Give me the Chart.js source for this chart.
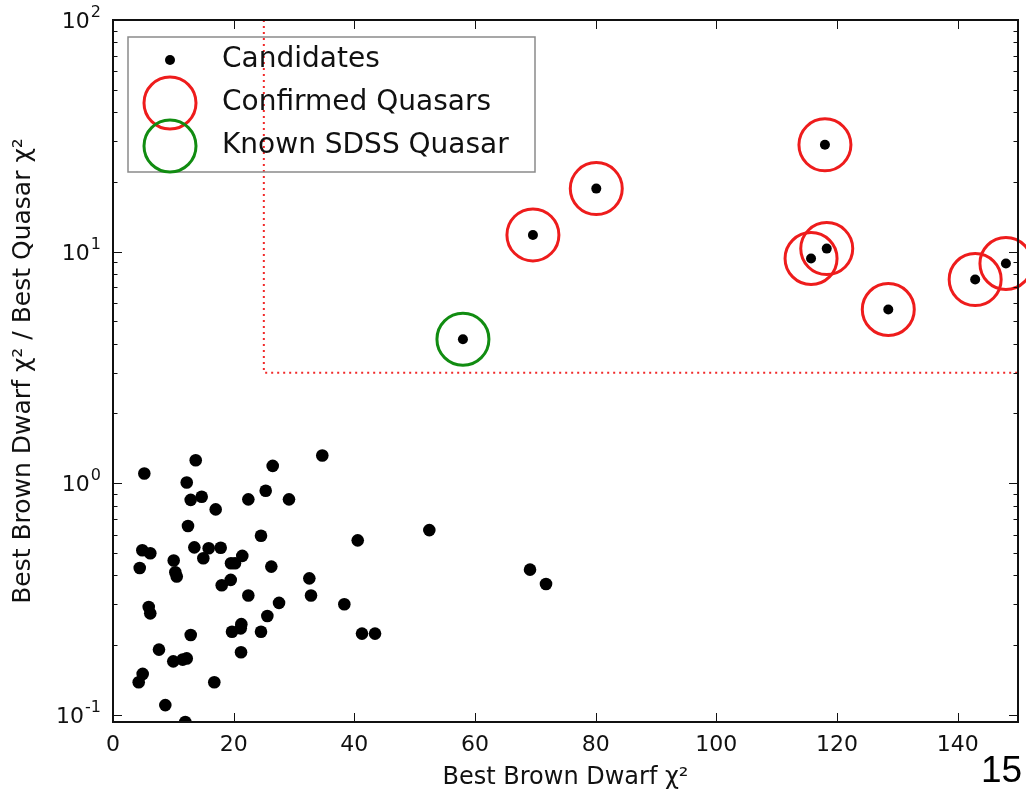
<!DOCTYPE html>
<html>
<head>
<meta charset="utf-8">
<script src="https://cdn.jsdelivr.net/npm/chart.js@4.4.1/dist/chart.umd.min.js"></script>
<style>
  html, body { margin: 0; padding: 0; background: #fff; }
  #wrap { width: 1026px; height: 792px; }
</style>
</head>
<body>
<div id="wrap"><canvas id="grafico" width="1026" height="792"></canvas></div>
<script>
// Candidatos (zona baja): chi2 de enana marrón y cociente
const candX = [5.19, 13.71, 12.22, 12.88, 14.70, 17.02, 22.43, 25.31, 26.47, 29.17,
  34.69, 12.43, 24.53, 4.86, 6.18, 4.43, 10.06, 10.33, 10.56, 13.48,
  14.97, 15.86, 17.85, 19.56, 20.22, 21.43, 26.24, 18.02, 19.51, 22.43,
  32.54, 32.82, 27.52, 5.92, 6.18, 12.88, 21.27, 21.17, 19.72, 25.58,
  24.53, 7.62, 9.99, 11.55, 12.22, 21.22, 4.92, 4.26, 16.79, 8.67,
  11.98, 40.56, 52.43, 38.34, 69.12, 71.77, 41.27, 43.43];
const candY = [1.10, 1.256, 1.007, 0.847, 0.873, 0.770, 0.851, 0.927, 1.187, 0.851,
  1.316, 0.653, 0.593, 0.513, 0.498, 0.430, 0.463, 0.412, 0.395, 0.528,
  0.474, 0.523, 0.526, 0.451, 0.451, 0.485, 0.436, 0.362, 0.382, 0.327,
  0.388, 0.327, 0.304, 0.292, 0.274, 0.221, 0.246, 0.236, 0.228, 0.267,
  0.228, 0.191, 0.170, 0.173, 0.175, 0.186, 0.150, 0.138, 0.138, 0.110,
  0.093, 0.566, 0.627, 0.300, 0.423, 0.367, 0.224, 0.224];

// Quásares confirmados
const confX = [69.6, 80.1, 118.0, 115.7, 118.3, 128.5, 142.9, 148.0];
const confY = [11.8, 18.7, 28.9, 9.33, 10.3, 5.62, 7.57, 8.88];

// Quásar conocido de SDSS
const sdssX = [58.0];
const sdssY = [4.18];

// Cortes de selección (líneas punteadas)
const corteX = 25;
const corteY = 3;

// Ejes
const xMin = 0, xMax = 150;
const yMin = 0.093, yMax = 100;
const xTicks = [0, 20, 40, 60, 80, 100, 120, 140];
const yTicks = [0.1, 1, 10, 100];
const yTickExp = ["-1", "0", "1", "2"];

const legendLabels = ["Candidates", "Confirmed Quasars", "Known SDSS Quasar"];

function puntos(xs, ys) {
  return xs.map((x, i) => ({ x: x, y: ys[i] }));
}

const ROJO = "#ee1c1c";
const VERDE = "#118c11";
const FUENTE = "'DejaVu Sans', sans-serif";

// Leyenda dentro del área del gráfico, estilo matplotlib
const leyendaPlugin = {
  id: "leyenda",
  afterDatasetsDraw(chart) {
    const ctx = chart.ctx;
    const a = chart.chartArea;
    const bx = a.left + 15, by = a.top + 17, bw = 407, bh = 135;
    ctx.save();
    ctx.strokeStyle = "#8a8a8a";
    ctx.lineWidth = 1.5;
    ctx.strokeRect(bx, by, bw, bh);
    const mx = bx + 42;
    const filas = [by + 23, by + 66, by + 109];
    // marcador de candidatos
    ctx.fillStyle = "#000";
    ctx.beginPath();
    ctx.arc(mx, filas[0], 5, 0, Math.PI * 2);
    ctx.fill();
    ctx.lineWidth = 3;
    ctx.strokeStyle = ROJO;
    ctx.beginPath();
    ctx.arc(mx, filas[1], 26, 0, Math.PI * 2);
    ctx.stroke();
    ctx.strokeStyle = VERDE;
    ctx.beginPath();
    ctx.arc(mx, filas[2], 26, 0, Math.PI * 2);
    ctx.stroke();
    ctx.fillStyle = "#111";
    ctx.font = "28px " + FUENTE;
    ctx.textBaseline = "middle";
    ctx.textAlign = "left";
    legendLabels.forEach((t, i) => ctx.fillText(t, bx + 94, filas[i]));
    ctx.restore();
  }
};

// Marco, ticks hacia adentro y etiquetas 10^n del eje y
const marcoPlugin = {
  id: "marco",
  afterDraw(chart) {
    const ctx = chart.ctx;
    const a = chart.chartArea;
    const sx = chart.scales.x, sy = chart.scales.y;
    ctx.save();
    ctx.strokeStyle = "#111";
    ctx.lineWidth = 1;
    ctx.beginPath();
    xTicks.forEach(v => {
      const px = Math.round(sx.getPixelForValue(v)) + 0.5;
      ctx.moveTo(px, a.bottom); ctx.lineTo(px, a.bottom - 9);
      ctx.moveTo(px, a.top); ctx.lineTo(px, a.top + 9);
    });
    for (let n = -2; n <= 2; n++) {
      for (let k = 1; k <= 9; k++) {
        const v = k * Math.pow(10, n);
        if (v < yMin || v > yMax) continue;
        const py = Math.round(sy.getPixelForValue(v)) + 0.5;
        const len = k === 1 ? 9 : 4.5;
        ctx.moveTo(a.left, py); ctx.lineTo(a.left + len, py);
        ctx.moveTo(a.right, py); ctx.lineTo(a.right - len, py);
      }
    }
    ctx.stroke();
    ctx.lineWidth = 2;
    ctx.strokeRect(a.left, a.top, a.right - a.left, a.bottom - a.top);

    // etiquetas con exponente
    ctx.fillStyle = "#111";
    ctx.textBaseline = "alphabetic";
    yTicks.forEach((v, i) => {
      const py = sy.getPixelForValue(v);
      ctx.font = "16px " + FUENTE;
      const we = ctx.measureText(yTickExp[i]).width;
      const xe = a.left - 12 - we;
      ctx.textAlign = "left";
      ctx.fillText(yTickExp[i], xe, py - 3);
      ctx.font = "22px " + FUENTE;
      ctx.textAlign = "right";
      ctx.fillText("10", xe - 1, py + 8);
    });

    // número de diapositiva
    ctx.fillStyle = "#000";
    ctx.font = "37px 'Liberation Sans', Arial, sans-serif";
    ctx.textAlign = "left";
    ctx.fillText("15", 981, 782);
    ctx.restore();
  }
};

const ctx = document.getElementById("grafico").getContext("2d");
new Chart(ctx, {
  type: "scatter",
  data: {
    datasets: [
      {
        // líneas de corte punteadas
        type: "line",
        data: [{ x: corteX, y: yMax }, { x: corteX, y: corteY }, { x: xMax, y: corteY }],
        borderColor: "rgba(240, 30, 30, 0.95)",
        borderWidth: 2,
        borderDash: [2, 4],
        pointRadius: 0,
        fill: false,
        tension: 0
      },
      {
        data: puntos(candX, candY),
        backgroundColor: "#000",
        borderWidth: 0,
        pointRadius: 6.3,
        clip: 0
      },
      {
        data: puntos(confX, confY),
        backgroundColor: "#000",
        borderWidth: 0,
        pointRadius: 5,
        clip: 0
      },
      {
        data: puntos(sdssX, sdssY),
        backgroundColor: "#000",
        borderWidth: 0,
        pointRadius: 5,
        clip: 0
      },
      {
        data: puntos(confX, confY),
        backgroundColor: "rgba(0,0,0,0)",
        borderColor: ROJO,
        borderWidth: 3,
        pointRadius: 26,
        clip: false
      },
      {
        data: puntos(sdssX, sdssY),
        backgroundColor: "rgba(0,0,0,0)",
        borderColor: VERDE,
        borderWidth: 3,
        pointRadius: 26,
        clip: false
      }
    ]
  },
  options: {
    responsive: false,
    animation: false,
    devicePixelRatio: 1,
    layout: { autoPadding: false, padding: { top: 20, right: 8, left: 0, bottom: 0 } },
    plugins: {
      legend: { display: false },
      tooltip: { enabled: false }
    },
    scales: {
      x: {
        type: "linear",
        min: xMin,
        max: xMax,
        grid: { display: false },
        border: { display: false },
        // el tick del borde derecho queda sin etiqueta
        afterBuildTicks: s => { s.ticks = xTicks.concat([xMax]).map(v => ({ value: v })); },
        afterFit: s => { s.height = 70; },
        ticks: {
          color: "#111",
          font: { family: FUENTE, size: 22 },
          padding: 2,
          maxRotation: 0,
          callback: v => (xTicks.includes(v) ? String(v) : "")
        },
        title: {
          display: true,
          text: "Best Brown Dwarf χ²",
          color: "#111",
          font: { family: FUENTE, size: 24 },
          padding: { top: 0, bottom: 0 }
        }
      },
      y: {
        type: "logarithmic",
        min: yMin,
        max: yMax,
        grid: { display: false },
        border: { display: false },
        afterBuildTicks: s => { s.ticks = yTicks.map(v => ({ value: v })); },
        afterFit: s => { s.width = 113; },
        ticks: { display: false },
        title: {
          display: true,
          text: "Best Brown Dwarf χ² / Best Quasar χ²",
          color: "#111",
          font: { family: FUENTE, size: 25 },
          padding: { top: 8, bottom: 0 }
        }
      }
    }
  },
  plugins: [leyendaPlugin, marcoPlugin]
});
</script>
</body>
</html>
